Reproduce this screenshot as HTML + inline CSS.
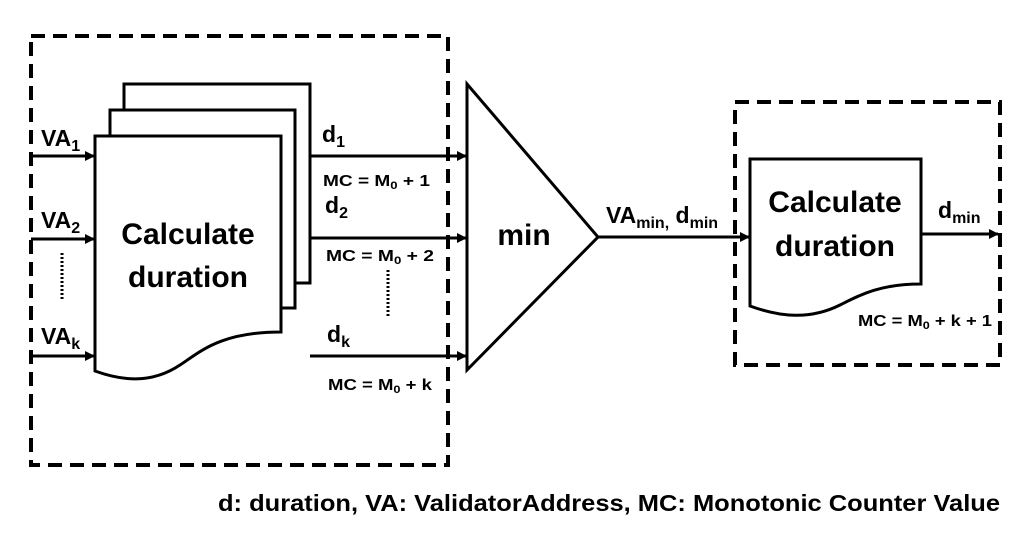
<!DOCTYPE html>
<html><head><meta charset="utf-8"><style>
body{margin:0;background:#fff;}
svg{display:block;font-family:"Liberation Sans",Arial,sans-serif;font-weight:bold;}
</style></head><body>
<svg width="1036" height="544" viewBox="0 0 1036 544" xmlns="http://www.w3.org/2000/svg">
<defs><marker id="a" markerWidth="10" markerHeight="10" refX="9" refY="5" orient="auto" markerUnits="userSpaceOnUse"><path d="M0,0 L10,5 L0,10 z" fill="#000"/></marker></defs>
<g fill="none" stroke="#000">
<rect x="31" y="36" width="417" height="429" stroke-width="4" stroke-dasharray="14,8"/>
<rect x="735" y="102" width="265" height="263" stroke-width="4" stroke-dasharray="14,8"/>
<path d="M124,110 V84 H310 V283 H295" stroke-width="3" fill="#fff"/>
<path d="M110,136 V110 H295 V308 H281" stroke-width="3" fill="#fff"/>
<path d="M95,136 H281 V332 C220,332 200,352 180,365 C150,385 120,380 95,371 Z" stroke-width="3" fill="#fff"/>
<path d="M750,159 H921 V284 C880,284 860,295 840,305 C810,320 780,317 750,306 Z" stroke-width="3" fill="#fff"/>
<path d="M467,84 L598,237 L467,370 Z" stroke-width="3"/>
<g stroke-width="3" marker-end="url(#a)">
<line x1="31" y1="156" x2="94" y2="156"/>
<line x1="31" y1="239" x2="94" y2="239"/>
<line x1="31" y1="356" x2="94" y2="356"/>
<line x1="310" y1="156" x2="466" y2="156"/>
<line x1="310" y1="238" x2="466" y2="238"/>
<line x1="310" y1="356" x2="466" y2="356"/>
<line x1="598" y1="237" x2="749" y2="237"/>
<line x1="921" y1="234" x2="998" y2="234"/>
</g>
<line x1="62" y1="253" x2="62" y2="300" stroke-width="3" stroke-dasharray="2,2"/>
<line x1="388" y1="270" x2="388" y2="317" stroke-width="3" stroke-dasharray="2,2"/>
</g>
<g fill="#000">
<text x="188" y="244" font-size="30" text-anchor="middle">Calculate</text>
<text x="188" y="287" font-size="30" text-anchor="middle">duration</text>
<text x="835" y="212" font-size="30" text-anchor="middle">Calculate</text>
<text x="835" y="256" font-size="30" text-anchor="middle">duration</text>
<text x="524" y="245" font-size="30" text-anchor="middle">min</text>
<text x="41" y="146" font-size="23">VA<tspan font-size="16" dy="5">1</tspan></text>
<text x="41" y="228" font-size="23">VA<tspan font-size="16" dy="5">2</tspan></text>
<text x="41" y="344" font-size="23">VA<tspan font-size="16" dy="5">k</tspan></text>
<text x="322" y="142" font-size="23">d<tspan font-size="16" dy="5">1</tspan></text>
<text x="325" y="213" font-size="23">d<tspan font-size="16" dy="5">2</tspan></text>
<text x="327" y="342" font-size="23">d<tspan font-size="16" dy="5">k</tspan></text>
<text x="323" y="186" font-size="16" textLength="107" lengthAdjust="spacingAndGlyphs">MC = M<tspan font-size="11" dy="3">0</tspan><tspan dy="-3"> + 1</tspan></text>
<text x="326" y="261" font-size="16" textLength="108" lengthAdjust="spacingAndGlyphs">MC = M<tspan font-size="11" dy="3">0</tspan><tspan dy="-3"> + 2</tspan></text>
<text x="328" y="390" font-size="16" textLength="104" lengthAdjust="spacingAndGlyphs">MC = M<tspan font-size="11" dy="3">0</tspan><tspan dy="-3"> + k</tspan></text>
<text x="858" y="326" font-size="16" textLength="134" lengthAdjust="spacingAndGlyphs">MC = M<tspan font-size="11" dy="3">0</tspan><tspan dy="-3"> + k + 1</tspan></text>
<text x="606" y="223" font-size="23">VA<tspan font-size="16" dy="5">min,</tspan><tspan dy="-5"> d</tspan><tspan font-size="16" dy="5">min</tspan></text>
<text x="938" y="218" font-size="23">d<tspan font-size="16" dy="5">min</tspan></text>
<text x="218" y="511" font-size="23" textLength="782" lengthAdjust="spacingAndGlyphs">d: duration, VA: ValidatorAddress, MC: Monotonic Counter Value</text>
</g>
</svg>
</body></html>
